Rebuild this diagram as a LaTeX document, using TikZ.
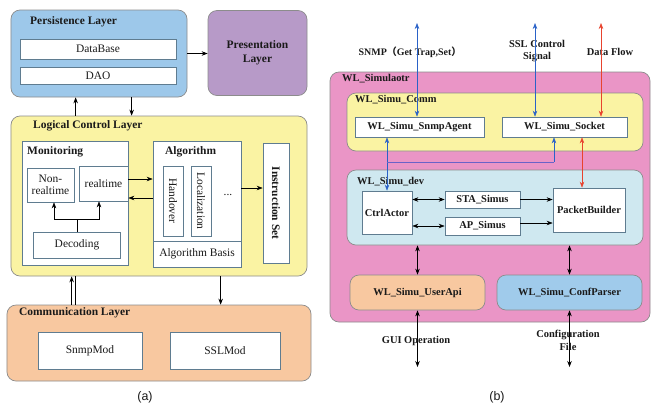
\documentclass[tikz,border=0pt]{standalone}
\usepackage{fontspec}
\setmainfont{Liberation Serif}
\setsansfont{Liberation Sans}
\newfontfamily\cjk{Noto Sans CJK SC}
\usetikzlibrary{arrows.meta}

\definecolor{edgegray}{HTML}{8C8C8C}
\definecolor{boxedge}{HTML}{5F7C90}
\definecolor{persfill}{HTML}{9DC8EA}
\definecolor{presfill}{HTML}{B79AC8}
\definecolor{logicfill}{HTML}{FAF3A3}
\definecolor{commfill}{HTML}{F8C8A0}
\definecolor{simfill}{HTML}{EA95C6}
\definecolor{devfill}{HTML}{CFE8F0}
\definecolor{conffill}{HTML}{A0CBEB}
\definecolor{txt}{HTML}{1A1A1A}
\definecolor{sigblue}{HTML}{2A62C8}
\definecolor{sigpurple}{HTML}{6A62C8}
\definecolor{sigred}{HTML}{E8432E}

\begin{document}
\begin{tikzpicture}[x=1bp,y=-1bp,
  text=txt,
  font=\fontsize{11.5}{13}\selectfont,
  layer/.style={draw=edgegray, line width=0.7bp, rounded corners=9bp, inner sep=0pt},
  box/.style={draw=boxedge, fill=white, line width=0.7bp, inner sep=0pt, align=center},
  ltitle/.style={font=\bfseries\fontsize{11.5}{13}\selectfont, inner sep=0pt, anchor=west},
  rtitle/.style={font=\bfseries\fontsize{10.5}{12}\selectfont, inner sep=0pt, anchor=west},
  rbold/.style={font=\bfseries\fontsize{10.5}{12}\selectfont},
  arr/.style={-{Stealth[length=6bp,width=4.5bp]}, line width=0.6bp},
  darr/.style={{Stealth[length=6bp,width=4.5bp]}-{Stealth[length=6bp,width=4.5bp]}, line width=0.6bp},
  plain/.style={line width=0.6bp},
]
\useasboundingbox[fill=white] (0,0) rectangle (651,408);

% ---------------- (a) layered architecture ----------------
\node[layer, fill=persfill, minimum width=176bp, minimum height=87bp] (persist) at (99,53.5) {};
\node[ltitle] (persistT) at (30,22) {Persistence Layer};
\node[box, minimum width=156bp, minimum height=20bp] (db) at (98,49) {DataBase};
\node[box, minimum width=156bp, minimum height=17bp] (dao) at (98,75.5) {DAO};

\node[layer, fill=presfill, minimum width=99bp, minimum height=85bp, align=center,
      font=\bfseries\fontsize{11.5}{14}\selectfont] (present) at (257.5,53) {Presentation\\Layer};
\draw[arr] (persist.east) -- (persist.east -| present.west);

\node[layer, fill=logicfill, minimum width=296bp, minimum height=160bp] (logic) at (159,196) {};
\node[ltitle] (logicT) at (33,126) {Logical Control Layer};

\coordinate (pl1) at ([xshift=65bp]logic.north west);
\coordinate (pl2) at ([xshift=121bp]persist.south west);
\draw[arr] (pl1) -- (pl1 |- persist.south);
\draw[arr] (pl2) -- (pl2 |- logic.north);

% Monitoring block
\node[box, minimum width=106bp, minimum height=124bp] (monitor) at (75,203) {};
\node[ltitle] (monitorT) at (27,152) {Monitoring};
\node[box, minimum width=47bp, minimum height=34bp, font=\fontsize{11.5}{12.5}\selectfont] (nonrt) at (50.5,185) {Non-\\realtime};
\node[box, minimum width=49bp, minimum height=35bp] (rt) at (103.5,183.5) {realtime};
\node[box, minimum width=87bp, minimum height=26bp] (decode) at (77,245) {Decoding};
\draw[plain] (decode.north) -- ++(0,-12) coordinate (dj);
\draw[arr] (dj) -| ([xshift=3.5bp]nonrt.south);
\draw[arr] (dj) -| ([xshift=-4.5bp]rt.south);

% Algorithm block
\node[box, minimum width=88bp, minimum height=126bp] (algo) at (197,204) {};
\node[ltitle] (algoT) at (165,152) {Algorithm};
\node[box, minimum width=20bp, minimum height=70bp] (hand) at (173,201) {};
\node[rotate=-90, inner sep=0pt] (handT) at (hand.center) {Handover};
\node[box, minimum width=20bp, minimum height=70bp] (local) at (201,201) {};
\node[rotate=-90, inner sep=0pt] (localT) at (local.center) {Localization};
\node[inner sep=0pt] (dots) at (228,195) {...};
\node[box, minimum width=88bp, minimum height=26bp] (basis) at (197,254) {Algorithm Basis};

\node[box, minimum width=26bp, minimum height=120bp] (instr) at (276,203) {};
\node[rotate=-90, inner sep=0pt, font=\bfseries\fontsize{11.5}{13}\selectfont] (instrT) at (instr.center) {Instruction Set};

\coordinate (ma1) at ([yshift=4.5bp]rt.east);
\coordinate (ma2) at ([yshift=-14.5bp]rt.east);
\coordinate (ai1) at ([yshift=16bp]algo.east);
\draw[arr] (ma1) -- (ma1 -| algo.west);
\draw[arr] (ma2 -| algo.west) -- (ma2);
\draw[arr] (ai1) -- (ai1 -| instr.west);

% Communication layer
\node[layer, fill=commfill, minimum width=304bp, minimum height=76bp] (comm) at (159,343) {};
\node[ltitle] (commT) at (19,313) {Communication Layer};
\node[box, minimum width=104bp, minimum height=37bp] (snmp) at (90,350.5) {SnmpMod};
\node[box, minimum width=110bp, minimum height=37bp] (ssl) at (225,350.5) {SSLMod};

\coordinate (cl1) at ([xshift=65bp]comm.north west);
\coordinate (cl2) at ([xshift=69bp]comm.north west);
\coordinate (cl3) at ([xshift=210bp]logic.south west);
\draw[arr] (cl1) -- (cl1 |- logic.south);
\draw[plain] (cl2) -- (cl2 |- logic.south);
\draw[arr] (cl3) -- (cl3 |- comm.north);

\node[font=\sffamily\fontsize{12.5}{14}\selectfont, inner sep=0pt] (capA) at (145,397) {(a)};

% ---------------- (b) simulator structure ----------------
\node[layer, fill=simfill, minimum width=320bp, minimum height=250bp] (sim) at (490,197) {};
\node[rtitle] (simT) at (342,79) {WL\_Simulaotr};

\node[layer, fill=logicfill, minimum width=296bp, minimum height=58bp] (scomm) at (495,122) {};
\node[rtitle] (scommT) at (355,100) {WL\_Simu\_Comm};
\node[box, rbold, minimum width=129bp, minimum height=20bp] (agent) at (419.5,127) {WL\_Simu\_SnmpAgent};
\node[box, rbold, minimum width=125bp, minimum height=20bp] (sock) at (564.5,127) {WL\_Simu\_Socket};

\node[rbold, inner sep=0pt, font=\bfseries\fontsize{10}{12}\selectfont] (snmpL) at (410,52) {SNMP{\cjk\bfseries （}Get Trap,Set{\cjk\bfseries ）}};
\node[rbold, inner sep=0pt, align=center, font=\bfseries\fontsize{10.5}{13}\selectfont] (sslL) at (537,51) {SSL Control\\Signal};
\node[rbold, inner sep=0pt] (flowL) at (610,52) {Data Flow};

\coordinate (tb1) at (417,23);
\coordinate (tb2) at (535,23);
\coordinate (tr1) at (601,23);
\draw[darr, sigblue] (tb1) -- (tb1 |- agent.north);
\draw[darr, sigblue] (tb2) -- (tb2 |- sock.north);
\draw[darr, sigred] (tr1) -- (tr1 |- sock.north);

\node[layer, fill=devfill, minimum width=296bp, minimum height=75bp] (dev) at (495,207.5) {};
\node[rtitle] (devT) at (357,182) {WL\_Simu\_dev};
\node[box, rbold, minimum width=50bp, minimum height=43bp] (ctrl) at (387,212.5) {CtrlActor};
\node[box, rbold, minimum width=75bp, minimum height=17bp] (sta) at (482.5,199.5) {STA\_Simus};
\node[box, rbold, minimum width=75bp, minimum height=18bp] (ap) at (482.5,226) {AP\_Simus};
\node[box, rbold, minimum width=72bp, minimum height=44bp] (pb) at (589,210) {PacketBuilder};

% signal paths from the comm layer into the device model
\draw[darr, sigblue] (ctrl.north |- agent.south) -- (ctrl.north);
\coordinate (sj) at (554,162);
\draw[plain, sigpurple] (ctrl.north |- sj) -- (sj);
\draw[arr, sigblue] (sj) -- (sj |- sock.south);
\coordinate (rj) at (582,162);
\draw[darr, sigred] (rj |- sock.south) -- (rj |- pb.north);

\draw[darr] (ctrl.east |- sta.west) -- (sta.west);
\draw[darr] (ctrl.east |- ap.west) -- (ap.west);
\draw[arr] (sta.east) -- (sta.east -| pb.west);
\coordinate (apo) at ([yshift=3bp]ap.east);
\draw[arr] (apo) -- (apo -| pb.west);

\node[layer, fill=commfill, rbold, minimum width=135bp, minimum height=35bp] (user) at (417.5,292.5) {WL\_Simu\_UserApi};
\node[layer, fill=conffill, rbold, minimum width=145bp, minimum height=35bp] (conf) at (569.5,292.5) {WL\_Simu\_ConfParser};

\draw[darr] (user.north |- dev.south) -- (user.north);
\draw[darr] (conf.north |- dev.south) -- (conf.north);

\coordinate (ge) at (417.5,367);
\coordinate (ce) at (569.5,367);
\draw[darr] (user.south) -- (ge);
\draw[darr] (conf.south) -- (ce);
\node[rbold, inner sep=0pt] (guiL) at (416,341) {GUI Operation};
\node[rbold, inner sep=0pt, align=center, font=\bfseries\fontsize{10.5}{13}\selectfont] (cfgL) at (568,340) {Configuration\\File};

\node[font=\sffamily\fontsize{12.5}{14}\selectfont, inner sep=0pt] (capB) at (497,397) {(b)};
\end{tikzpicture}
\end{document}
